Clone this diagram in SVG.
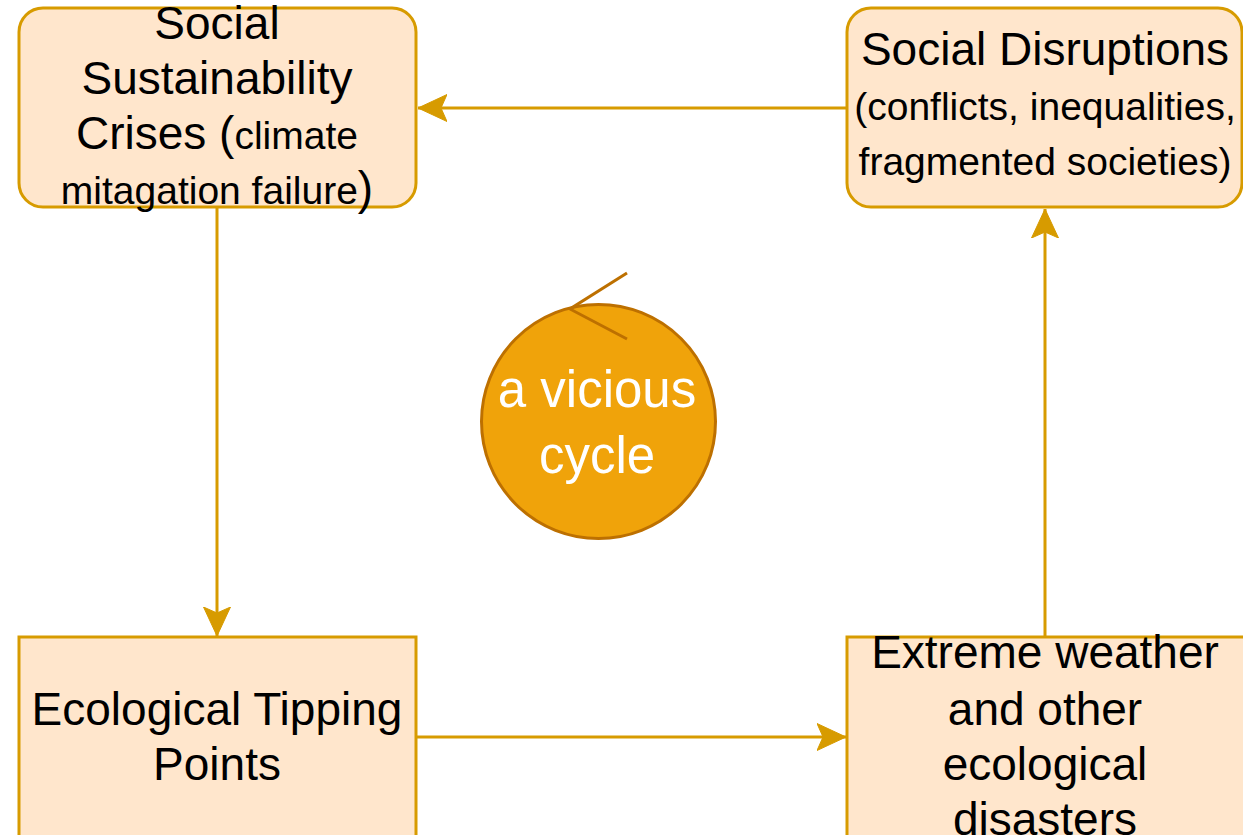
<svg xmlns="http://www.w3.org/2000/svg" width="1243" height="835" viewBox="0 0 1243 835">
<defs>
<style>
.box{fill:#ffe6cc;stroke:#d79b00;stroke-width:3}
.t{font-family:"Liberation Sans",Arial,sans-serif;font-size:46px;fill:#000;text-anchor:middle}
.s{font-size:39px}
.edge{fill:none;stroke:#d79b00;stroke-width:3}
.cyc{font-family:"Liberation Sans",Arial,sans-serif;font-size:51px;fill:#fff;text-anchor:middle}
</style>
<marker id="arr" markerUnits="userSpaceOnUse" markerWidth="32" markerHeight="30" viewBox="0 -15 32 30" refX="29" refY="0" orient="auto">
<path d="M29,0 L0,-13.5 L6,0 L0,13.5 Z" fill="#d79b00" stroke="#d79b00" stroke-width="1"/>
</marker>
</defs>
<rect width="1243" height="835" fill="#ffffff"/>
<g id="connectors">
<path class="edge" d="M847,108 L418,108" marker-end="url(#arr)"/>
<path class="edge" d="M217,207 L217,636" marker-end="url(#arr)"/>
<path class="edge" d="M416,737 L846,737" marker-end="url(#arr)"/>
<path class="edge" d="M1045,637 L1045,209" marker-end="url(#arr)"/>
</g>
<g id="node-social-crises">
<rect class="box" x="19" y="8" width="397" height="199" rx="24" ry="24"/>
<text class="t" x="217" y="39">Social</text>
<text class="t" x="217" y="94">Sustainability</text>
<text class="t" x="217" y="149">Crises (<tspan class="s">climate</tspan></text>
<text class="t" x="217" y="204"><tspan class="s">mitagation failure</tspan>)</text>
</g>
<g id="node-social-disruptions">
<rect class="box" x="847" y="8" width="395" height="199" rx="24" ry="24"/>
<text class="t" x="1045" y="65">Social Disruptions</text>
<text class="t s" x="1045" y="120">(conflicts, inequalities,</text>
<text class="t s" x="1045" y="175">fragmented societies)</text>
</g>
<g id="node-tipping-points">
<rect class="box" x="19" y="637" width="397" height="210"/>
<text class="t" x="217" y="725">Ecological Tipping</text>
<text class="t" x="217" y="780">Points</text>
</g>
<g id="node-extreme-weather">
<rect class="box" x="847" y="637" width="400" height="210"/>
<text class="t" x="1045" y="668">Extreme weather</text>
<text class="t" x="1045" y="725">and other</text>
<text class="t" x="1045" y="780">ecological</text>
<text class="t" x="1045" y="835">disasters</text>
</g>
<g id="node-vicious-cycle">
<circle cx="598.5" cy="421.5" r="117" fill="#f0a30a" stroke="#bd7000" stroke-width="3"/>
<path d="M627,273 L570,309 L627,339" fill="none" stroke="#bd7000" stroke-width="3"/>
<text class="cyc" x="597" y="407">a vicious</text>
<text class="cyc" x="597" y="473">cycle</text>
</g>
</svg>
